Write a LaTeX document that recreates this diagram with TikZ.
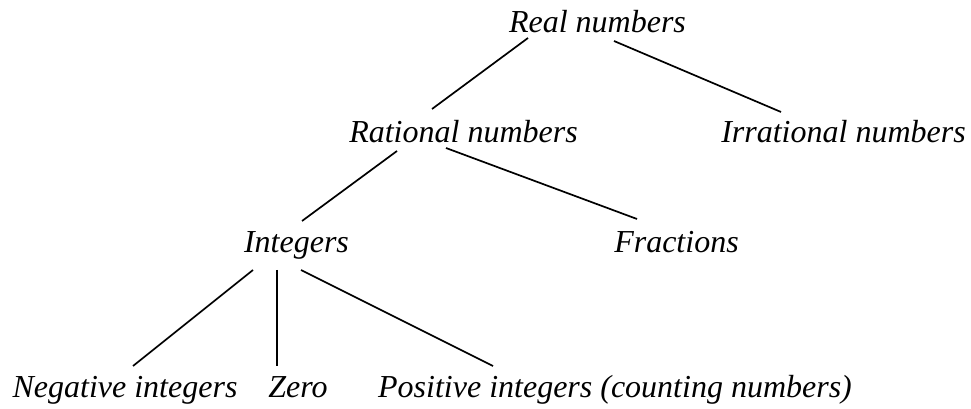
\documentclass[tikz,border=0pt]{standalone}
\usepackage{fontspec}
\setmainfont{Liberation Serif}
\usepackage{tikz}
\usetikzlibrary{positioning}
\tikzset{term/.style={font=\fontsize{32}{36}\selectfont\itshape,inner sep=0pt,anchor=base},link/.style={line width=1.7pt,black}}

\begin{document}
\begin{tikzpicture}[x=1pt,y=1pt]
        \useasboundingbox (0,0) rectangle (971,409);
        \node[term] (real) at (597.5,376){Real numbers};
        \node[term] (rational) at (463.5,266){Rational numbers};
        \node[term] (irrational) at (843.5,266){Irrational numbers};
        \node[term] (integers) at (296.5,156){Integers};
        \node[term] (fractions) at (676.5,156){Fractions};
        \node[term] (negative) at (125,11){Negative integers};
        \node[term] (zero) at (298,11){Zero};
        \node[term] (positive) at (615,11){Positive integers (counting numbers)};
        \draw[link] ([shift={(-69.5,-5)}]real.base)--([shift={(-31.5,34)}]rational.base);
        \draw[link] ([shift={(16.5,-8)}]real.base)--([shift={(-62.5,31)}]irrational.base);
        \draw[link] ([shift={(-66.5,-8)}]rational.base)--([shift={(5.5,32)}]integers.base);
        \draw[link] ([shift={(-17.5,-5)}]rational.base)--([shift={(-39.5,34)}]fractions.base);
        \draw[link] ([shift={(-43.5,-17)}]integers.base)--([shift={(8,32)}]negative.base);
        \draw[link] ([shift={(-19.5,-17)}]integers.base)--([shift={(-21,32)}]zero.base);
        \draw[link] ([shift={(4.5,-17)}]integers.base)--([shift={(-122,32)}]positive.base);
      \end{tikzpicture}
\end{document}
